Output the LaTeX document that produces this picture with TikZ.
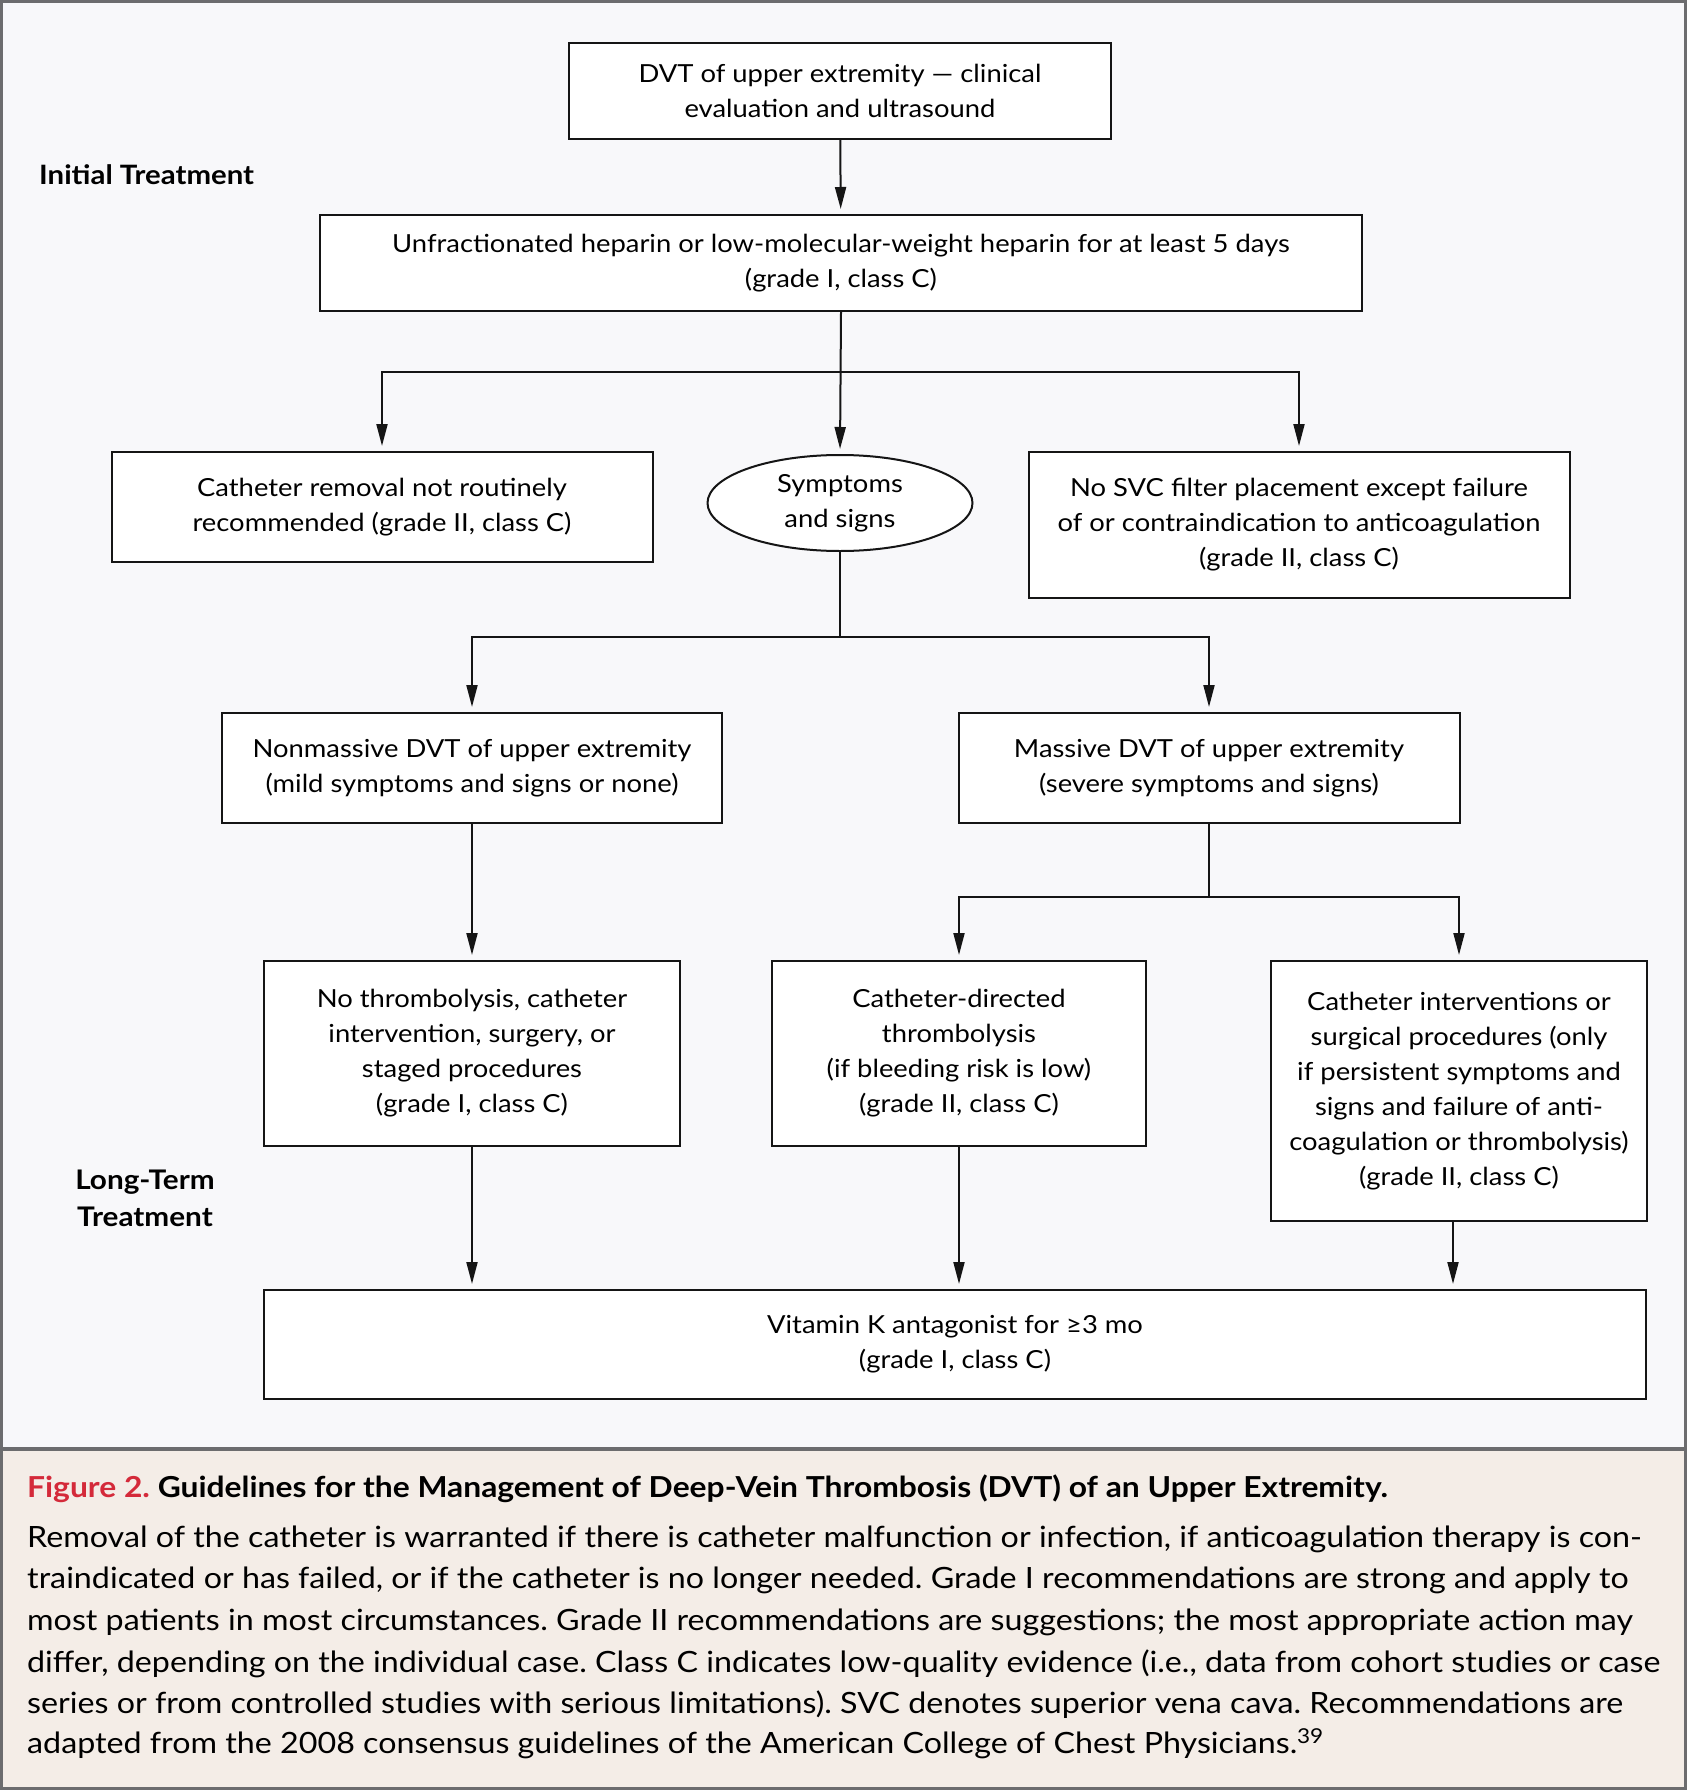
\documentclass[tikz,border=0pt]{standalone}
\usepackage{fontspec}
\setmainfont{Lato}[FakeStretch=1.1]
\frenchspacing
\usetikzlibrary{arrows.meta,shapes.geometric}
\definecolor{framegray}{HTML}{6C6C6E}
\definecolor{chartbg}{HTML}{F8F8FA}
\definecolor{capbg}{HTML}{F4EDE7}
\definecolor{figred}{HTML}{D42A3A}
\definecolor{ink}{HTML}{151515}
\begin{document}
\begin{tikzpicture}[x=1pt,y=-1pt,
  box/.style={draw=ink,line width=2pt,fill=white,align=center,inner sep=0pt,
    font=\fontsize{24.9}{35}\selectfont},
  arr/.style={draw=ink,line width=2pt,-{Triangle[length=22pt,width=11pt]},shorten >=5pt},
  lbl/.style={font=\fontsize{27}{37}\selectfont\bfseries,align=center,inner sep=0pt},
  capline/.style={anchor=base west,inner sep=0pt,font=\fontsize{29.3}{41}\selectfont}
]
\useasboundingbox (0,0) rectangle (1687,1790);
% backgrounds
\fill[chartbg] (0,0) rectangle (1687,1449);
\fill[capbg] (0,1449) rectangle (1687,1790);
\draw[framegray,line width=3.5pt] (0,1449) -- (1687,1449);
\draw[framegray,line width=3pt] (1.5,1.5) rectangle (1685.5,1788.5);

% labels
\node[lbl,anchor=base west,font=\fontsize{26.7}{37}\selectfont\bfseries] (lab1) at (39,185) {Initial Treatment};
\node[lbl] (lab2) at (145,1198) {Long-Term\\Treatment};

% boxes
\node[box,minimum width=542pt,minimum height=96pt] (b1) at (840,91)
  {DVT of upper extremity — clinical\\evaluation and ultrasound};
\node[box,minimum width=1042pt,minimum height=96pt] (b2) at (841,263)
  {Unfractionated heparin or low-molecular-weight heparin for at least 5 days\\(grade I, class C)};
\node[box,minimum width=541pt,minimum height=110pt] (b3) at (382,507)
  {Catheter removal not routinely\\recommended (grade II, class C)};
\node[box,ellipse,minimum width=265pt,minimum height=96pt] (ell) at (840,503)
  {Symptoms\\and signs};
\node[box,minimum width=541pt,minimum height=146pt] (b4) at (1299,525)
  {No SVC filter placement except failure\\of or contraindication to anticoagulation\\(grade II, class C)};
\node[box,minimum width=500pt,minimum height=110pt] (b5) at (472,768)
  {Nonmassive DVT of upper extremity\\(mild symptoms and signs or none)};
\node[box,minimum width=501pt,minimum height=110pt] (b6) at (1209,768)
  {Massive DVT of upper extremity\\(severe symptoms and signs)};
\node[box,minimum width=416pt,minimum height=185pt] (b7) at (472,1053.5)
  {No thrombolysis, catheter\\intervention, surgery, or\\staged procedures\\(grade I, class C)};
\node[box,minimum width=374pt,minimum height=185pt] (b8) at (959,1053.5)
  {Catheter-directed\\thrombolysis\\(if bleeding risk is low)\\(grade II, class C)};
\node[box,minimum width=376pt,minimum height=260pt] (b9) at (1459,1091)
  {Catheter interventions or\\surgical procedures (only\\if persistent symptoms and\\signs and failure of anti-\\coagulation or thrombolysis)\\(grade II, class C)};
\node[box,minimum width=1382pt,minimum height=109pt] (b10) at (955,1344.5)
  {Vitamin K antagonist for ≥3 mo\\(grade I, class C)};

% connectors
\coordinate (j1) at (841,372);
\coordinate (j2) at (840,637);
\coordinate (j3) at (1209,897);
\draw[arr] (b1) -- (b2);
\draw[arr] (b2.south) -- (ell.north);
\draw[arr] (j1) -| (b3.north);
\draw[arr] (j1) -| (b4.north);
\draw[draw=ink,line width=2pt] (ell.south) -- (j2);
\draw[arr] (j2) -| (b5.north);
\draw[arr] (j2) -| (b6.north);
\draw[arr] (b5) -- (b7);
\draw[draw=ink,line width=2pt] (b6.south) -- (j3);
\draw[arr] (j3) -| (b8.north);
\draw[arr] (j3) -| (b9.north);
\draw[arr] (b7.south) -- (b7.south |- b10.north);
\draw[arr] (b8.south) -- (b8.south |- b10.north);
\draw[arr] ([xshift=-6pt]b9.south) -- ([xshift=-6pt]b9.south |- b10.north);

% caption
\node[capline,font=\fontsize{28.9}{41}\selectfont\bfseries] (ct) at (27,1497)
  {\textcolor{figred}{Figure 2.} Guidelines for the Management of Deep-Vein Thrombosis (DVT) of an Upper Extremity.};
\node[capline] (c1) at (27,1547) {Removal of the catheter is warranted if there is catheter malfunction or infection, if anticoagulation therapy is con-};
\node[capline] (c2) at (27,1588) {traindicated or has failed, or if the catheter is no longer needed. Grade I recommendations are strong and apply to};
\node[capline] (c3) at (27,1630) {most patients in most circumstances. Grade II recommendations are suggestions; the most appropriate action may};
\node[capline] (c4) at (27,1672) {differ, depending on the individual case. Class C indicates low-quality evidence (i.e., data from cohort studies or case};
\node[capline] (c5) at (27,1713) {series or from controlled studies with serious limitations). SVC denotes superior vena cava. Recommendations are};
\node[capline] (c6) at (27,1753) {adapted from the 2008 consensus guidelines of the American College of Chest Physicians.\textsuperscript{39}};
\end{tikzpicture}
\end{document}
